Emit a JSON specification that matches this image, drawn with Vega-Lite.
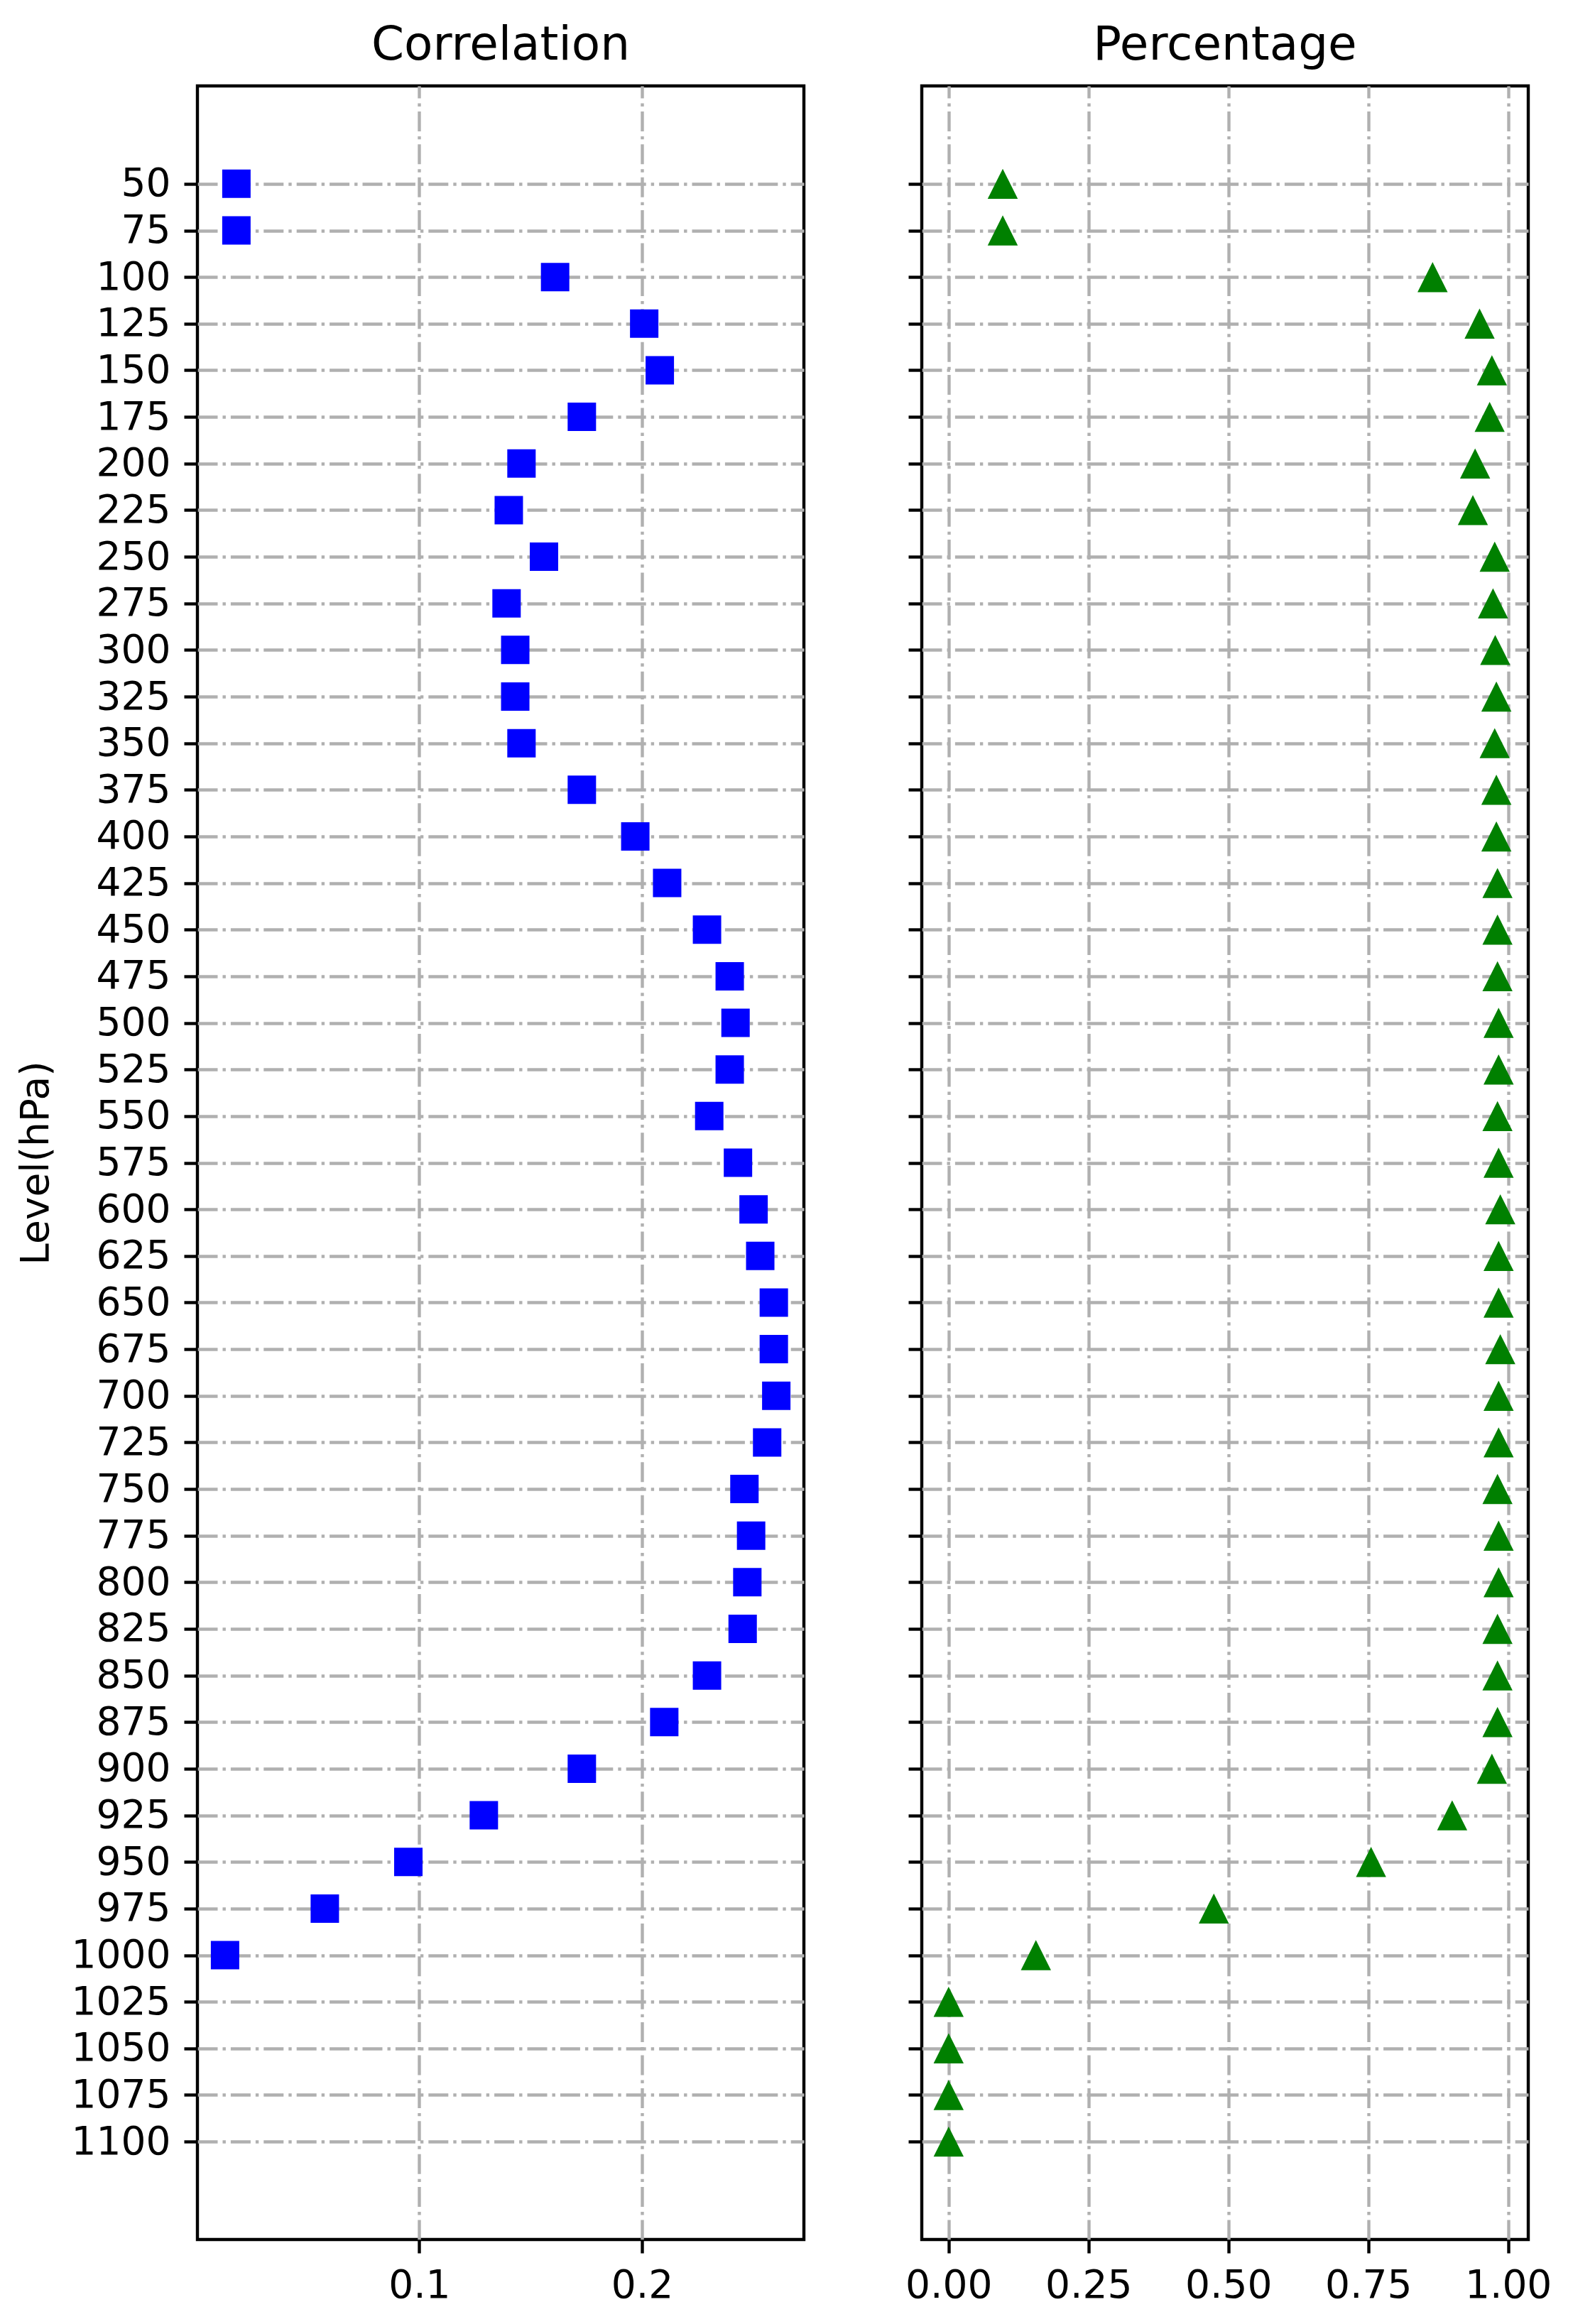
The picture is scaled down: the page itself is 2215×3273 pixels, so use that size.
{
  "$schema": "https://vega.github.io/schema/vega-lite/v6.json",
  "padding": {"left": 20, "top": 28, "right": 5, "bottom": 5},
  "bounds": "flush",
  "spacing": 166,
  "datasets": {
    "levels": [
      {"level": 50, "correlation": 0.0179, "percentage": 0.0967},
      {"level": 75, "correlation": 0.0179, "percentage": 0.0967},
      {"level": 100, "correlation": 0.161, "percentage": 0.865},
      {"level": 125, "correlation": 0.201, "percentage": 0.949},
      {"level": 150, "correlation": 0.208, "percentage": 0.971},
      {"level": 175, "correlation": 0.173, "percentage": 0.967},
      {"level": 200, "correlation": 0.1459, "percentage": 0.941},
      {"level": 225, "correlation": 0.1402, "percentage": 0.937},
      {"level": 250, "correlation": 0.156, "percentage": 0.976},
      {"level": 275, "correlation": 0.1392, "percentage": 0.973},
      {"level": 300, "correlation": 0.1431, "percentage": 0.977},
      {"level": 325, "correlation": 0.1431, "percentage": 0.979},
      {"level": 350, "correlation": 0.1459, "percentage": 0.976},
      {"level": 375, "correlation": 0.173, "percentage": 0.979},
      {"level": 400, "correlation": 0.197, "percentage": 0.979},
      {"level": 425, "correlation": 0.2113, "percentage": 0.981},
      {"level": 450, "correlation": 0.2292, "percentage": 0.981},
      {"level": 475, "correlation": 0.2394, "percentage": 0.981},
      {"level": 500, "correlation": 0.242, "percentage": 0.983},
      {"level": 525, "correlation": 0.2394, "percentage": 0.983},
      {"level": 550, "correlation": 0.2302, "percentage": 0.981},
      {"level": 575, "correlation": 0.2431, "percentage": 0.983},
      {"level": 600, "correlation": 0.2501, "percentage": 0.986},
      {"level": 625, "correlation": 0.2531, "percentage": 0.983},
      {"level": 650, "correlation": 0.2592, "percentage": 0.983},
      {"level": 675, "correlation": 0.2592, "percentage": 0.986},
      {"level": 700, "correlation": 0.2603, "percentage": 0.983},
      {"level": 725, "correlation": 0.2562, "percentage": 0.983},
      {"level": 750, "correlation": 0.246, "percentage": 0.981},
      {"level": 775, "correlation": 0.249, "percentage": 0.983},
      {"level": 800, "correlation": 0.2473, "percentage": 0.983},
      {"level": 825, "correlation": 0.2452, "percentage": 0.981},
      {"level": 850, "correlation": 0.2292, "percentage": 0.981},
      {"level": 875, "correlation": 0.21, "percentage": 0.981},
      {"level": 900, "correlation": 0.173, "percentage": 0.971},
      {"level": 925, "correlation": 0.129, "percentage": 0.9},
      {"level": 950, "correlation": 0.0951, "percentage": 0.755},
      {"level": 975, "correlation": 0.0576, "percentage": 0.474},
      {"level": 1000, "correlation": 0.0128, "percentage": 0.156},
      {"level": 1025, "correlation": null, "percentage": 0},
      {"level": 1050, "correlation": null, "percentage": 0},
      {"level": 1075, "correlation": null, "percentage": 0},
      {"level": 1100, "correlation": null, "percentage": 0}
    ]
  },
  "hconcat": [
    {
      "title": "Correlation",
      "width": 854,
      "height": 3033,
      "data": {"name": "levels"},
      "transform": [{"filter": "isValid(datum.correlation)"}],
      "mark": {"type": "point", "shape": "square", "filled": true, "color": "#0000ff", "opacity": 1, "size": 1600},
      "encoding": {
        "x": {
          "field": "correlation", "type": "quantitative",
          "scale": {"domain": [0.0004, 0.2727], "nice": false, "zero": false},
          "axis": {"title": null, "values": [0.1, 0.2], "format": ".1f", "grid": true}
        },
        "y": {
          "field": "level", "type": "quantitative",
          "scale": {"domain": [-2.5, 1152.5], "reverse": true, "nice": false, "zero": false},
          "axis": {
            "title": "Level(hPa)", "titlePadding": 33, "titleBaseline": "alphabetic",
            "values": [50, 75, 100, 125, 150, 175, 200, 225, 250, 275, 300, 325, 350, 375, 400, 425, 450, 475, 500, 525, 550, 575, 600, 625, 650, 675, 700, 725, 750, 775, 800, 825, 850, 875, 900, 925, 950, 975, 1000, 1025, 1050, 1075, 1100],
            "format": "d", "grid": true
          }
        }
      }
    },
    {
      "title": "Percentage",
      "width": 854,
      "height": 3033,
      "data": {"name": "levels"},
      "mark": {"type": "point", "shape": "M0,-1L1,1L-1,1Z", "filled": true, "color": "#008000", "opacity": 1, "size": 1800},
      "encoding": {
        "x": {
          "field": "percentage", "type": "quantitative",
          "scale": {"domain": [-0.048, 1.036], "nice": false, "zero": false},
          "axis": {"title": null, "values": [0, 0.25, 0.5, 0.75, 1], "format": ".2f", "grid": true}
        },
        "y": {
          "field": "level", "type": "quantitative",
          "scale": {"domain": [-2.5, 1152.5], "reverse": true, "nice": false, "zero": false},
          "axis": {
            "title": null, "labels": false,
            "values": [50, 75, 100, 125, 150, 175, 200, 225, 250, 275, 300, 325, 350, 375, 400, 425, 450, 475, 500, 525, 550, 575, 600, 625, 650, 675, 700, 725, 750, 775, 800, 825, 850, 875, 900, 925, 950, 975, 1000, 1025, 1050, 1075, 1100],
            "grid": true
          }
        }
      }
    }
  ],
  "config": {
    "font": "DejaVu Sans",
    "background": "white",
    "view": {"stroke": "black", "strokeWidth": 4.4},
    "axis": {
      "domain": false,
      "tickColor": "black", "tickWidth": 4.4, "tickSize": 19,
      "labelFont": "DejaVu Sans", "labelFontSize": 55, "labelColor": "black", "labelPadding": 19,
      "labelOverlap": false, "labelFlush": false,
      "gridColor": "#b0b0b0", "gridWidth": 4.4, "gridDash": [28, 7, 4.4, 7], "gridOpacity": 1,
      "titleFont": "DejaVu Sans", "titleFontSize": 55, "titleFontWeight": "normal", "titleColor": "black"
    },
    "title": {"font": "DejaVu Sans", "fontSize": 66, "fontWeight": "normal", "color": "black", "baseline": "alphabetic", "offset": 23, "frame": "group", "anchor": "middle"}
  }
}
